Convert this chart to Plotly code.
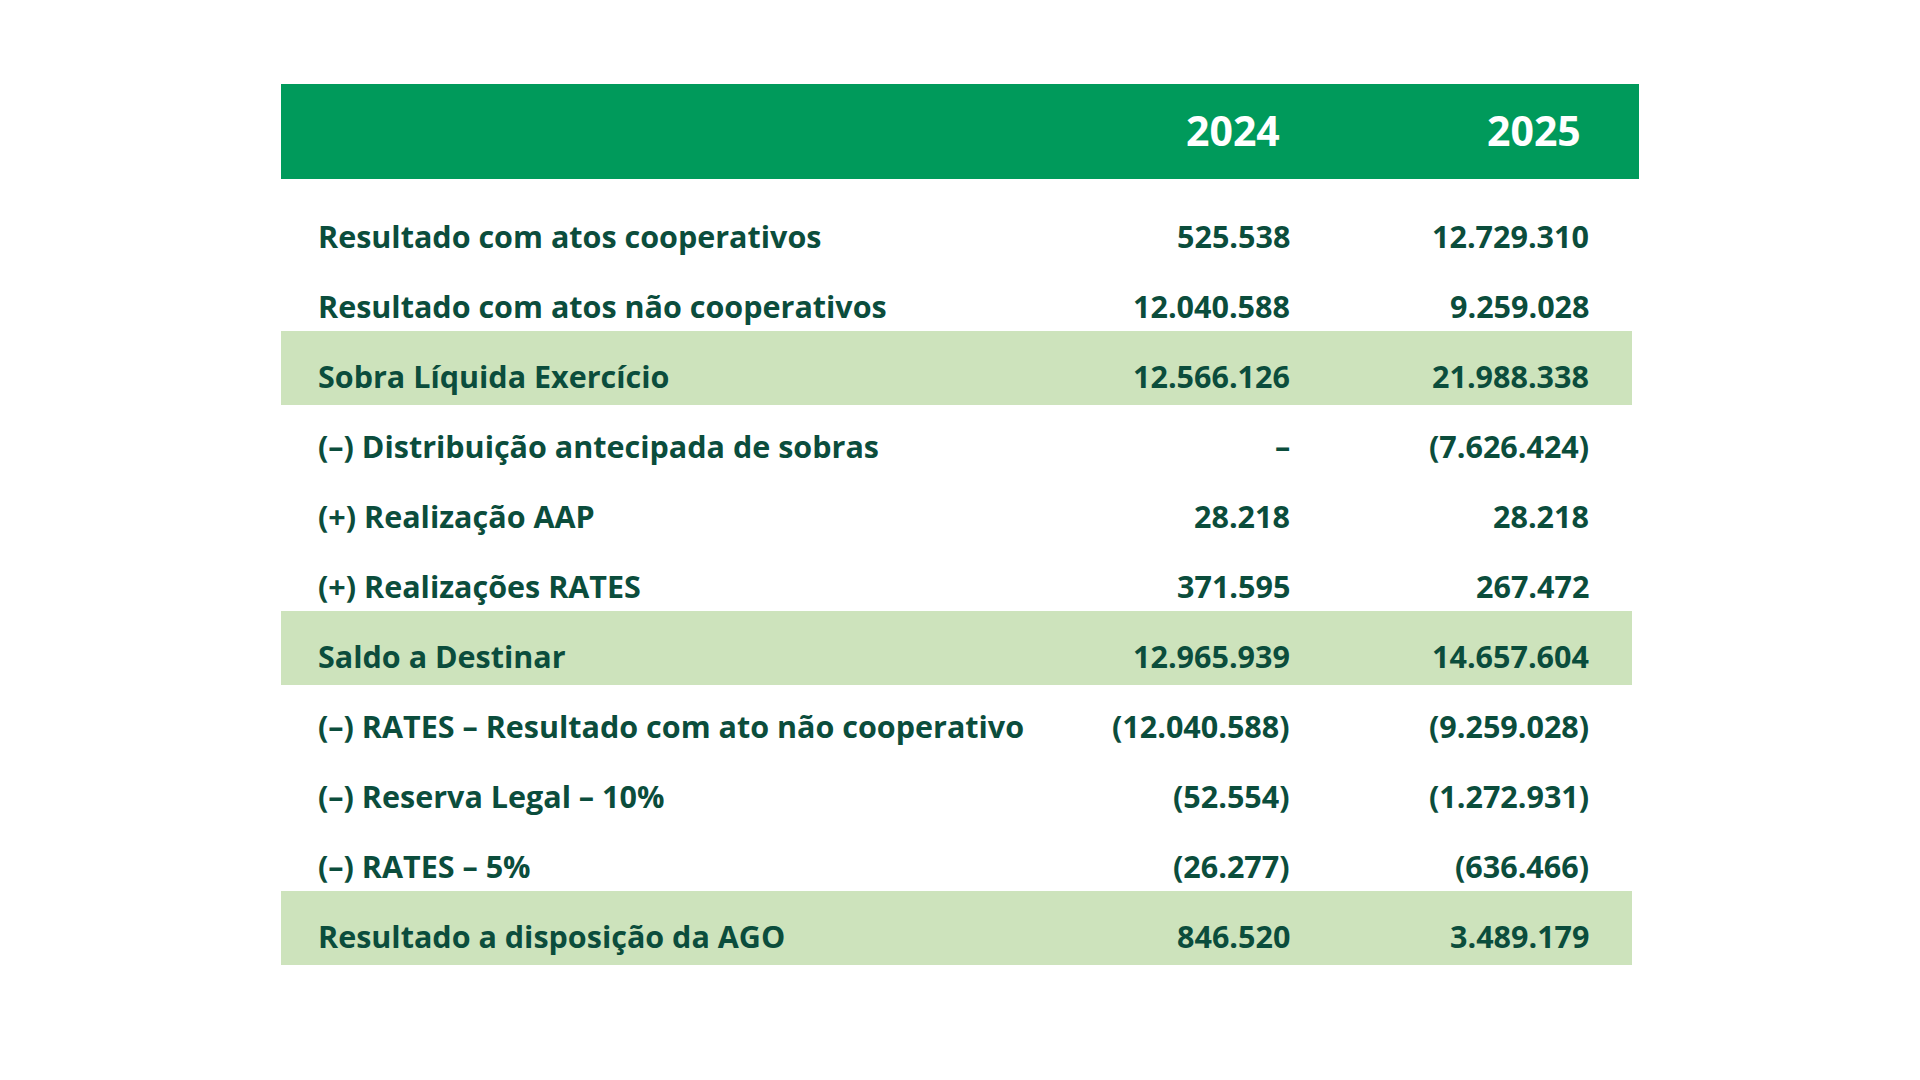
import plotly.graph_objects as go

# ---- data ----
years = ["2024", "2025"]
labels = [
    "Resultado com atos cooperativos",
    "Resultado com atos não cooperativos",
    "Sobra Líquida Exercício",
    "(–) Distribuição antecipada de sobras",
    "(+) Realização AAP",
    "(+) Realizações RATES",
    "Saldo a Destinar",
    "(–) RATES – Resultado com ato não cooperativo",
    "(–) Reserva Legal – 10%",
    "(–) RATES – 5%",
    "Resultado a disposição da AGO",
]
values_2024 = ["525.538", "12.040.588", "12.566.126", "–", "28.218", "371.595",
               "12.965.939", "(12.040.588)", "(52.554)", "(26.277)", "846.520"]
values_2025 = ["12.729.310", "9.259.028", "21.988.338", "(7.626.424)", "28.218", "267.472",
               "14.657.604", "(9.259.028)", "(1.272.931)", "(636.466)", "3.489.179"]
highlight = [2, 6, 10]

GREEN = "#009a5b"
DARK = "#0b4d3c"
LIGHT = "#cde3bc"
FONT = "Open Sans"

fig = go.Figure()

# header band
fig.add_shape(type="rect", x0=273, x1=1631, y0=76, y1=171, fillcolor=GREEN, line_width=0, layer="below")
for yr, xr in zip(years, [1274, 1575]):
    fig.add_annotation(x=xr, y=122, text=f"<b>{yr}</b>", xanchor="right", yanchor="middle",
                       showarrow=False, font=dict(size=41, color="white", family=FONT))

row0, step = 228, 70
for i, (lab, v1, v2) in enumerate(zip(labels, values_2024, values_2025)):
    y = row0 + i * step
    if i in highlight:
        fig.add_shape(type="rect", x0=273, x1=1624, y0=y - 45, y1=y + 29,
                      fillcolor=LIGHT, line_width=0, layer="below")
    fig.add_annotation(x=308, y=y, text=f"<b>{lab}</b>", xanchor="left", yanchor="middle",
                       showarrow=False, font=dict(size=30.5, color=DARK, family=FONT))
    for v, xr in zip([v1, v2], [1284, 1583]):
        fig.add_annotation(x=xr, y=y, text=f"<b>{v}</b>", xanchor="right", yanchor="middle",
                           showarrow=False, font=dict(size=30.5, color=DARK, family=FONT))

fig.update_xaxes(range=[0, 1920], visible=False, fixedrange=True)
fig.update_yaxes(range=[1080, 0], visible=False, fixedrange=True)
fig.update_layout(
    width=1920, height=1080,
    margin=dict(l=0, r=0, t=0, b=0),
    plot_bgcolor="white", paper_bgcolor="white",
    showlegend=False,
)

fig.write_html("out.html")
